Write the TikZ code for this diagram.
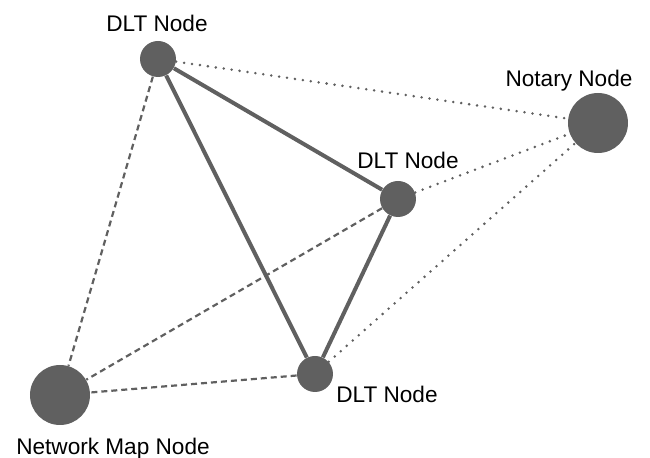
\documentclass[tikz,border=0pt]{standalone}
\usepackage{fontspec}
\setmainfont{Liberation Sans}
\definecolor{nodegray}{RGB}{96,96,96}

\begin{document}
\begin{tikzpicture}[x=0.5pt,y=-0.5pt,
  dlt/.style={circle,fill=nodegray,inner sep=0pt,minimum size=18pt},
  big/.style={circle,fill=nodegray,inner sep=0pt,minimum size=30pt},
  txt/.style={anchor=base,inner sep=0pt,font=\fontsize{11.3}{13}\selectfont},
  solidlink/.style={draw=nodegray,line width=2pt},
  dashlink/.style={draw=nodegray,line width=1.1pt,dash pattern=on 3pt off 2pt},
  dotlink/.style={draw=nodegray,line width=1.4pt,line cap=round,dash pattern=on 0pt off 4pt}]
\useasboundingbox (0,0) rectangle (650,458);
% nodes
\node[dlt] (top) at (158,59) {};
\node[dlt] (mid) at (398,199) {};
\node[dlt] (bot) at (315,374) {};
\node[big] (notary) at (598,123) {};
\node[big] (map) at (60,395) {};
% labels
\node[txt] (toplabel) at (157,32) {DLT Node};
\node[txt] (midlabel) at (408,169) {DLT Node};
\node[txt] (botlabel) at (387,403) {DLT Node};
\node[txt] (notarylabel) at (569,87) {Notary Node};
\node[txt] (maplabel) at (113,455) {Network Map Node};
% links
\draw[dotlink] (top) -- (notary);
\draw[dotlink] (mid) -- (notary);
\draw[dotlink] (bot) -- (notary);
\draw[dashlink] (top) -- (map);
\draw[dashlink] (mid) -- (map);
\draw[dashlink] (bot) -- (map);
\draw[solidlink] (top) -- (mid);
\draw[solidlink] (top) -- (bot);
\draw[solidlink] (mid) -- (bot);
\end{tikzpicture}
\end{document}
